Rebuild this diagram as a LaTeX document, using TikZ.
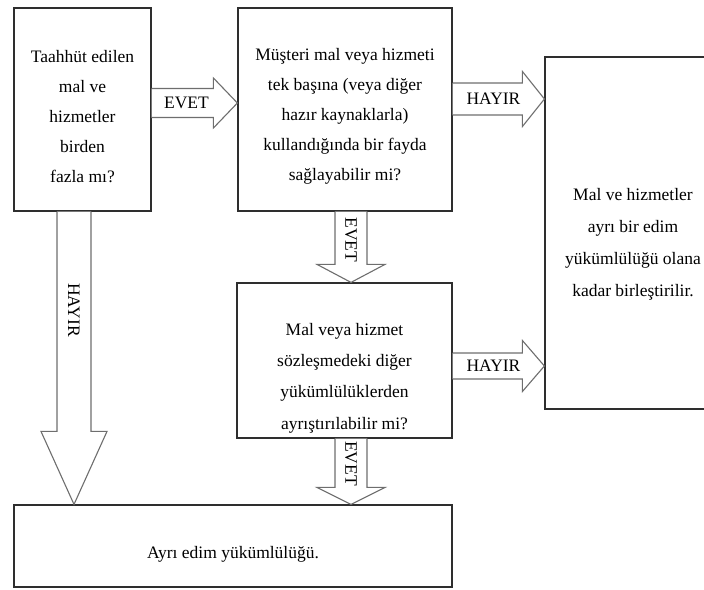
\documentclass[tikz,border=0pt]{standalone}
\usepackage{fontspec}
\setmainfont{Liberation Serif}
\newfontfamily\diagfont{Liberation Serif}
\usetikzlibrary{calc}
\definecolor{edge}{HTML}{2E2E2E}
\definecolor{arrowgrey}{HTML}{6E6E6E}

\begin{document}
\begin{tikzpicture}[
  x=1pt, y=-1pt,
  box/.style={draw=edge, fill=white, line width=1.2pt, inner sep=0pt},
  txt/.style={align=center, inner sep=0pt, font=\diagfont\fontsize{17.5}{30}\selectfont},
  blk/.style={draw=arrowgrey, fill=white, line width=1.1pt, line join=miter},
  lbl/.style={font=\diagfont\fontsize{17.5}{20}\selectfont, inner sep=0pt},
  vlbl/.style={lbl, rotate=-90}
]
\useasboundingbox (0,0) rectangle (704,589);
\clip (0,0) rectangle (704,589);

\node[box, minimum width=137pt, minimum height=203pt,
  label={[txt, yshift=-7.5pt]center:{Taahhüt edilen\\mal ve\\hizmetler\\birden\\fazla mı?}}] (fazla) at (82.5,109.5) {};
\node[box, minimum width=214pt, minimum height=203pt,
  label={[txt, yshift=-7pt]center:{Müşteri mal veya hizmeti\\tek başına (veya diğer\\hazır kaynaklarla)\\kullandığında bir fayda\\sağlayabilir mi?}}] (musteri) at (345,109.5) {};
\node[box, minimum width=215pt, minimum height=155pt,
  label={[txt, font=\diagfont\fontsize{17.5}{31.3}\selectfont, yshift=-17.5pt]center:{Mal veya hizmet\\sözleşmedeki diğer\\yükümlülüklerden\\ayrıştırılabilir mi?}}] (ayrist) at (344.5,360.5) {};
\node[box, minimum width=176pt, minimum height=352pt,
  label={[txt, font=\diagfont\fontsize{17.5}{32}\selectfont, yshift=-11pt]center:{Mal ve hizmetler\\ayrı bir edim\\yükümlülüğü olana\\kadar birleştirilir.}}] (birles) at (633,233) {};
\node[box, minimum width=438pt, minimum height=82pt,
  label={[txt, yshift=-8pt]center:{Ayrı edim yükümlülüğü.}}] (ayri) at (233,546) {};

% block arrows
\draw[blk] let \p1=([yshift=6.5pt]fazla.east), \p2=(musteri.west) in
  (\x1,\y1+14.5pt) -- (\x2-24pt,\y1+14.5pt) -- (\x2-24pt,\y1+25pt) -- (\x2,\y1)
  -- (\x2-24pt,\y1-25pt) -- (\x2-24pt,\y1-14.5pt) -- (\x1,\y1-14.5pt)
  ({(\x1+\x2)/2-8pt},\y1) node[lbl] {EVET};
\draw[blk] let \p1=([yshift=10.5pt]musteri.east), \p2=(birles.west) in
  (\x1,\y1+16pt) -- (\x2-22pt,\y1+16pt) -- (\x2-22pt,\y1+27.5pt) -- (\x2,\y1)
  -- (\x2-22pt,\y1-27.5pt) -- (\x2-22pt,\y1-16pt) -- (\x1,\y1-16pt)
  ({(\x1+\x2)/2-5pt},\y1) node[lbl] {HAYIR};
\draw[blk] let \p1=([yshift=-5.5pt]ayrist.east), \p2=(birles.west) in
  (\x1,\y1+13pt) -- (\x2-22pt,\y1+13pt) -- (\x2-22pt,\y1+25.5pt) -- (\x2,\y1)
  -- (\x2-22pt,\y1-25.5pt) -- (\x2-22pt,\y1-13pt) -- (\x1,\y1-13pt)
  ({(\x1+\x2)/2-5pt},\y1) node[lbl] {HAYIR};
\draw[blk] let \p1=([xshift=6pt]musteri.south), \p2=(ayrist.north) in
  (\x1-16pt,\y1) -- (\x1-16pt,\y2+18pt) -- (\x1-34pt,\y2+18pt) -- (\x1,\y2)
  -- (\x1+34pt,\y2+18pt) -- (\x1+16pt,\y2+18pt) -- (\x1+16pt,\y1)
  (\x1,{(\y1+\y2)/2+7pt}) node[vlbl] {EVET};
\draw[blk] let \p1=([xshift=6.5pt]ayrist.south), \p2=(ayri.north) in
  (\x1-16pt,\y1) -- (\x1-16pt,\y2+17pt) -- (\x1-34pt,\y2+17pt) -- (\x1,\y2)
  -- (\x1+34pt,\y2+17pt) -- (\x1+16pt,\y2+17pt) -- (\x1+16pt,\y1)
  (\x1,{(\y1+\y2)/2+8pt}) node[vlbl] {EVET};
\draw[blk] let \p1=([xshift=-8.5pt]fazla.south), \p2=(ayri.north) in
  (\x1-17pt,\y1) -- (\x1-17pt,\y2+73pt) -- (\x1-33pt,\y2+73pt) -- (\x1,\y2)
  -- (\x1+33pt,\y2+73pt) -- (\x1+17pt,\y2+73pt) -- (\x1+17pt,\y1)
  (\x1,{(\y1+\y2)/2+48pt}) node[vlbl] {HAYIR};
\end{tikzpicture}
\end{document}
